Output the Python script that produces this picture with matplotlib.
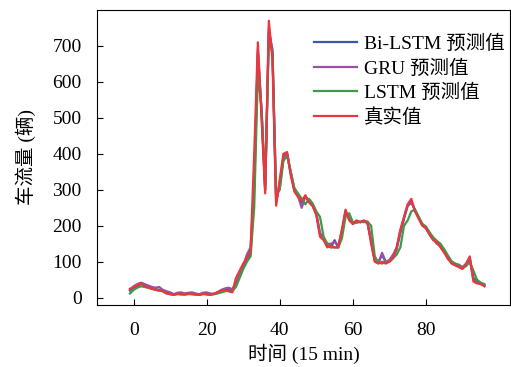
import numpy as np
import matplotlib
matplotlib.use("Agg")
from matplotlib import pyplot as plt

plt.rcParams['font.family'] = ['Liberation Serif', 'Noto Sans CJK SC']
plt.rcParams['font.size'] = 14

t = np.arange(-1, 97)

true_val = [25, 30, 35, 40, 32, 28, 25, 22, 20, 18,
            12, 10, 8, 12, 10, 9, 12, 10, 9, 8,
            12, 10, 8, 12, 15, 20, 22, 18, 15, 55,
            75, 95, 110, 130, 400, 710, 500, 290, 770, 660,
            256, 330, 400, 405, 340, 295, 280, 270, 285, 265,
            255, 230, 170, 160, 140, 145, 140, 140, 190, 245,
            215, 205, 215, 210, 215, 210, 150, 100, 95, 100,
            95, 100, 110, 140, 190, 225, 260, 275, 240, 220,
            200, 195, 175, 160, 155, 140, 125, 110, 95, 90,
            85, 80, 95, 115, 45, 40, 38, 32]

bilstm = [20, 28, 33, 38, 36, 30, 27, 24, 22, 20,
          15, 12, 10, 11, 12, 10, 11, 12, 10, 9,
          11, 12, 10, 11, 14, 18, 24, 25, 20, 35,
          60, 85, 105, 120, 300, 680, 520, 300, 740, 690,
          270, 310, 390, 400, 350, 300, 285, 265, 280, 270,
          258, 235, 180, 165, 145, 140, 160, 140, 180, 240,
          220, 205, 212, 210, 212, 208, 160, 105, 98, 120,
          98, 102, 112, 135, 180, 220, 255, 265, 245, 222,
          205, 195, 178, 165, 150, 145, 130, 112, 100, 92,
          88, 85, 90, 110, 55, 45, 40, 35]

gru = [22, 32, 38, 42, 38, 34, 30, 28, 30, 22,
       18, 15, 10, 14, 15, 12, 14, 15, 12, 10,
       14, 15, 12, 10, 16, 22, 26, 28, 24, 40,
       65, 90, 120, 140, 310, 690, 520, 300, 750, 680,
       265, 320, 395, 400, 345, 300, 282, 250, 282, 268,
       255, 232, 178, 165, 150, 150, 155, 145, 185, 240,
       218, 208, 214, 210, 214, 208, 158, 102, 97, 125,
       100, 105, 120, 140, 185, 222, 258, 268, 242, 225,
       202, 192, 176, 162, 152, 142, 128, 108, 98, 95,
       92, 85, 95, 105, 50, 42, 40, 33]

lstm = [12, 22, 28, 32, 30, 28, 25, 22, 20, 18,
        12, 10, 8, 10, 9, 9, 10, 10, 9, 8,
        10, 9, 8, 10, 12, 15, 18, 20, 18, 30,
        55, 80, 100, 115, 250, 620, 530, 310, 720, 680,
        290, 300, 380, 395, 350, 305, 290, 275, 260, 275,
        262, 240, 225, 170, 150, 140, 140, 140, 165, 225,
        235, 210, 208, 212, 210, 212, 200, 115, 98, 95,
        100, 100, 110, 120, 140, 200, 215, 240, 245, 225,
        205, 198, 182, 168, 158, 150, 135, 118, 102, 95,
        88, 82, 88, 100, 75, 50, 42, 38]

fig = plt.figure(figsize=(5.11, 3.67), dpi=100)
ax = fig.add_axes([0.19, 0.169, 0.808, 0.804])

ax.plot(t, bilstm, color='#3b57a6', lw=1.6, label='Bi-LSTM 预测值')
ax.plot(t, gru, color='#9b4fa6', lw=1.6, label='GRU 预测值')
ax.plot(t, lstm, color='#3f9a48', lw=1.6, label='LSTM 预测值')
ax.plot(t, true_val, color='#e8373f', lw=1.6, label='真实值')

ax.set_xlim(-10, 103)
ax.set_ylim(-20, 800)
ax.set_xticks([0, 20, 40, 60, 80])
ax.set_yticks([0, 100, 200, 300, 400, 500, 600, 700])
ax.tick_params(direction='in', length=4, labelsize=14)
ax.tick_params(axis='x', pad=12)
ax.tick_params(axis='y', pad=11)
ax.set_xlabel('时间 (15 min)', fontsize=14, labelpad=4)
ax.set_ylabel('车流量 (辆)', fontsize=14, labelpad=12)

ax.legend(loc='upper right', bbox_to_anchor=(1.015, 0.955), frameon=False,
          fontsize=14, handlelength=2.2, handletextpad=0.35, labelspacing=0.33,
          borderaxespad=0.2)

fig.savefig('out.png', dpi=100)
